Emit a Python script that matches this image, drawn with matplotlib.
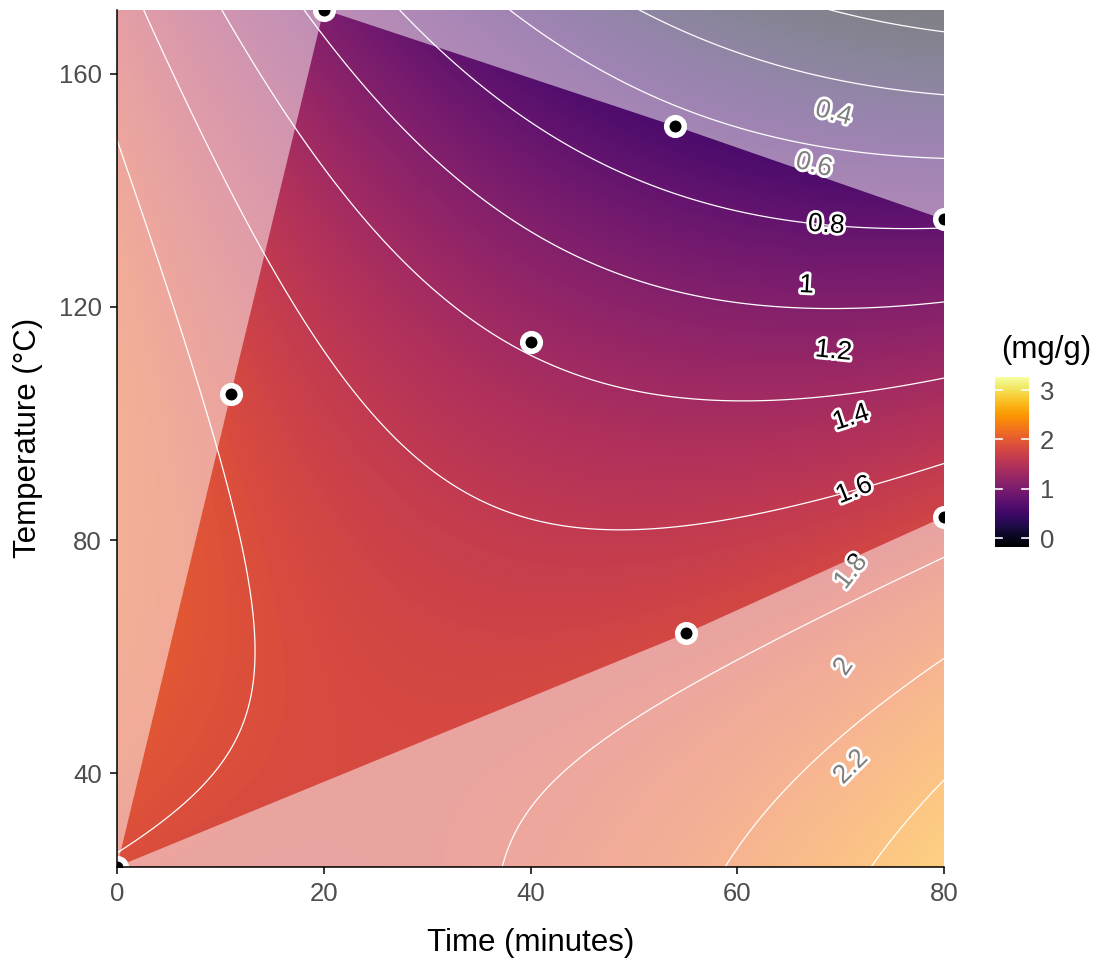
import numpy as np
import matplotlib
matplotlib.use("Agg")
import matplotlib.pyplot as plt
from matplotlib.path import Path
from matplotlib.patches import PathPatch
import matplotlib.patheffects as pe

plt.rcParams['font.family'] = ['Liberation Sans', 'DejaVu Sans']

# ---------------- data ----------------
# experimental design points (time in minutes, temperature in degC)
time_pts = [0, 11, 20, 40, 54, 55, 80, 80]
temp_pts = [24, 105, 171, 114, 151, 64, 135, 84]

# fitted quadratic response surface: b0, b_t, b_T, b_tt, b_TT, b_tT
surface_coef = [1.66, -0.001834, 0.00938, 1.977e-4, -5.36e-5, -2.13e-4]

time_range = [0, 80]
temp_range = [24, 171]

# white contour lines
line_levels = [0.0, 0.27, 0.53, 0.8, 1.07, 1.33, 1.6, 1.87, 2.13, 2.4]

# contour labels
label_values = [0.4, 0.6, 0.8, 1.0, 1.2, 1.4, 1.6, 1.8, 2.0, 2.2]
label_texts = ["0.4", "0.6", "0.8", "1", "1.2", "1.4", "1.6", "1.8", "2", "2.2"]
label_time = [69.3, 67.4, 68.6, 66.7, 69.3, 71.0, 71.3, 71.0, 70.3, 71.0]
label_angle = [-15, -15, -4, -3, -6, 18, 22, 52, 55, 45]

color_limits = [-0.17, 3.27]
cbar_ticks = [0, 1, 2, 3]
x_ticks = [0, 20, 40, 60, 80]
y_ticks = [40, 80, 120, 160]


def surface(t, T):
    b0, bt, bT, btt, bTT, btT = surface_coef
    return b0 + bt * t + bT * T + btt * t ** 2 + bTT * T ** 2 + btT * t * T


def temp_on_level(t, v):
    b0, bt, bT, btt, bTT, btT = surface_coef
    A = b0 + bt * t + btt * t ** 2 - v
    B = bT + btT * t
    C = bTT
    roots = np.roots([C, B, A])
    roots = [r.real for r in roots if abs(r.imag) < 1e-9 and temp_range[0] <= r.real <= temp_range[1]]
    return roots[0]


def convex_hull(pts):
    pts = sorted(set(pts))
    def cross(o, a, b):
        return (a[0] - o[0]) * (b[1] - o[1]) - (a[1] - o[1]) * (b[0] - o[0])
    lower, upper = [], []
    for p in pts:
        while len(lower) >= 2 and cross(lower[-2], lower[-1], p) <= 0:
            lower.pop()
        lower.append(p)
    for p in reversed(pts):
        while len(upper) >= 2 and cross(upper[-2], upper[-1], p) <= 0:
            upper.pop()
        upper.append(p)
    return lower[:-1] + upper[:-1]   # counter-clockwise


W, H = 1111, 964
fig = plt.figure(figsize=(W / 100, H / 100), dpi=100)
ax = fig.add_axes([117 / W, 1 - 866.7 / H, (944 - 117) / W, (866.7 - 9.5) / H])

tt = np.linspace(time_range[0], time_range[1], 500)
TT = np.linspace(temp_range[0], temp_range[1], 500)
G, Hm = np.meshgrid(tt, TT)
Z = surface(G, Hm)

ax.imshow(Z, extent=[time_range[0], time_range[1], temp_range[0], temp_range[1]],
          origin='lower', aspect='auto', cmap='inferno',
          vmin=color_limits[0], vmax=color_limits[1], interpolation='bilinear', zorder=1)
ax.contour(G, Hm, Z, levels=line_levels, colors='white', linewidths=0.9, zorder=2)

for v, txt, t, ang in zip(label_values, label_texts, label_time, label_angle):
    T = temp_on_level(t, v)
    ax.text(t, T, txt, rotation=ang, rotation_mode='anchor', ha='center', va='center',
            fontsize=19, color='black', zorder=3,
            path_effects=[pe.withStroke(linewidth=4, foreground='white')])

# translucent white veil outside the convex hull of the design points
hull = convex_hull(list(zip(time_pts, temp_pts)))
outer = [(time_range[0], temp_range[0]), (time_range[1], temp_range[0]),
         (time_range[1], temp_range[1]), (time_range[0], temp_range[1])]
inner = hull[::-1]
verts = outer + [outer[0]] + inner + [inner[0]]
codes = ([Path.MOVETO] + [Path.LINETO] * (len(outer) - 1) + [Path.CLOSEPOLY] +
         [Path.MOVETO] + [Path.LINETO] * (len(inner) - 1) + [Path.CLOSEPOLY])
ax.add_patch(PathPatch(Path(verts, codes), facecolor='white', alpha=0.5,
                       edgecolor='none', zorder=4))

ax.scatter(time_pts, temp_pts, s=160, c='black', edgecolors='white', linewidths=4, zorder=5)

ax.set_xlim(time_range)
ax.set_ylim(temp_range)
ax.set_xticks(x_ticks)
ax.set_yticks(y_ticks)
for s in ['top', 'right']:
    ax.spines[s].set_visible(False)
for s in ['left', 'bottom']:
    ax.spines[s].set_linewidth(1.1)
    ax.spines[s].set_zorder(6)
ax.tick_params(length=5, width=1.1, pad=6, labelsize=18.5, labelcolor='#4d4d4d')

fig.text((117 + 944) / 2 / W, 1 - 943 / H, 'Time (minutes)', ha='center', va='center', fontsize=22.5)
fig.text(28 / W, 1 - 438 / H, 'Temperature (°C)', ha='center', va='center', rotation=90, fontsize=22.5)

# colour bar
cax = fig.add_axes([995 / W, 1 - 546.7 / H, 34 / W, 170 / H])
grad = np.linspace(color_limits[0], color_limits[1], 300).reshape(-1, 1)
cax.imshow(grad, extent=[0, 1, color_limits[0], color_limits[1]], origin='lower',
           aspect='auto', cmap='inferno', vmin=color_limits[0], vmax=color_limits[1])
for tv in cbar_ticks:
    cax.plot([0, 0.2], [tv, tv], color='white', lw=1.2)
    cax.plot([0.8, 1], [tv, tv], color='white', lw=1.2)
cax.set_xlim(0, 1)
cax.set_ylim(color_limits)
cax.set_xticks([])
cax.yaxis.tick_right()
cax.set_yticks(cbar_ticks)
cax.tick_params(length=0, pad=8, labelsize=18.5, labelcolor='#4d4d4d')
for s in cax.spines.values():
    s.set_visible(False)
fig.text(1001 / W, 1 - 350 / H, '(mg/g)', ha='left', va='center', fontsize=22.5)

fig.savefig('out.png', dpi=100)
